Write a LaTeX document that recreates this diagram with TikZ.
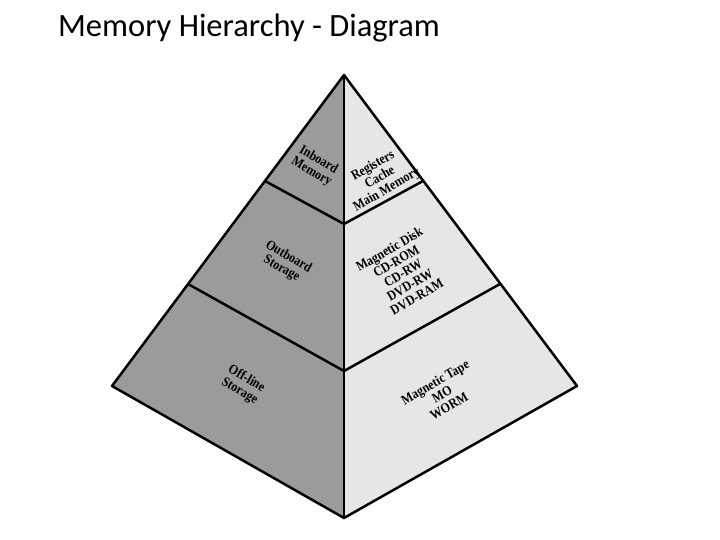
\documentclass[tikz,border=0pt]{standalone}
\usepackage{fontspec}
\setmainfont{Liberation Serif}
\newfontfamily\titlefont{Carlito}
\definecolor{darkface}{HTML}{9B9B9B}
\definecolor{lightface}{HTML}{E6E6E6}
\begin{document}
\begin{tikzpicture}[x=1pt,y=-1pt,
  edge/.style={line width=2.5pt, line join=round, line cap=round},
  lbl/.style={font=\bfseries\fontsize{12}{12}\selectfont, align=center, inner sep=0pt}]
\fill[white] (0,0) rectangle (720,540);
\useasboundingbox (0,0) rectangle (720,540);
% title
\node[anchor=base west, inner sep=0pt, font=\titlefont\fontsize{32.5}{36}\selectfont] (title) at (58,37) {Memory Hierarchy - Diagram};
% pyramid points
\coordinate (A) at (344,75);
\coordinate (L) at (112,386);
\coordinate (R) at (577,386);
\coordinate (B) at (344,518);
\coordinate (L1) at (265,181);
\coordinate (C1) at (344,224);
\coordinate (R1) at (423,181);
\coordinate (L2) at (188,284);
\coordinate (C2) at (344,371);
\coordinate (R2) at (500,284);
% faces
\fill[darkface] (A) -- (L) -- (B) -- cycle;
\fill[lightface] (A) -- (R) -- (B) -- cycle;
% edges
\draw[edge] (A) -- (L) -- (B) -- (R) -- cycle;
\draw[edge] (A) -- (B);
\draw[edge] (L1) -- (C1) -- (R1);
\draw[edge] (L2) -- (C2) -- (R2);
% labels
\node[lbl, rotate=-30, yscale=1.15] (inb) at (315,166) {Inboard\\Memory};
\node[lbl, rotate=30, yscale=1.15] (reg) at (380,178) {Registers\\Cache\\Main Memory};
\node[lbl, rotate=-30, yscale=1.15] (outb) at (285,263) {Outboard\\Storage};
\node[lbl, rotate=30, yscale=1.15] (disk) at (403,273) {Magnetic Disk\\CD-ROM\\CD-RW\\DVD-RW\\DVD-RAM};
\node[lbl, rotate=-30, yscale=1.15] (offl) at (243,385) {Off-line\\Storage};
\node[lbl, rotate=30, yscale=1.15] (tape) at (442,394) {Magnetic Tape\\MO\\WORM};
\end{tikzpicture}
\end{document}
